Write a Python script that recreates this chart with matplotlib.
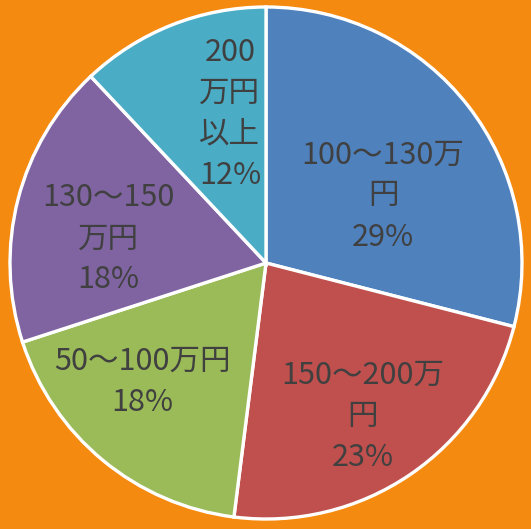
import matplotlib
matplotlib.use("Agg")
import matplotlib.pyplot as plt
import numpy as np

plt.rcParams['font.family'] = ['Noto Sans CJK JP', 'DejaVu Sans']

categories = ["100～130万\n円", "150～200万\n円", "50～100万円", "130～150\n万円", "200\n万円\n以上"]
values = [29, 23, 18, 18, 12]
colors = ["#4F81BD", "#C0504D", "#9BBB59", "#8064A2", "#4BACC6"]
label_dist = [0.527, 0.71, 0.67, 0.624, 0.60]
angle_shift = [-8.0, -2.0, -6.5, 5.7, -8.0]

W, H = 531, 529
fig = plt.figure(figsize=(W / 100, H / 100), dpi=100)
fig.patch.set_facecolor("#F58A10")
cx, cy, r = 266, 263, 256
ax = fig.add_axes([(cx - r) / W, (H - cy - r) / H, 2 * r / W, 2 * r / H])
ax.set_facecolor("none")

wedges, _ = ax.pie(values, colors=colors, startangle=90, counterclock=False,
                   wedgeprops=dict(edgecolor="white", linewidth=2.4), radius=1)
total = sum(values)
for w, cat, v, d, s in zip(wedges, categories, values, label_dist, angle_shift):
    mid = np.deg2rad((w.theta1 + w.theta2) / 2 + s)
    ax.text(d * np.cos(mid), d * np.sin(mid), f"{cat}\n{v / total * 100:.0f}%",
            ha="center", va="center", multialignment="center",
            fontsize=22, color="#404040", linespacing=1.42)
ax.set_xlim(-1, 1)
ax.set_ylim(-1, 1)
ax.set_aspect("auto")
ax.axis("off")
fig.savefig("out.png", dpi=100, facecolor=fig.get_facecolor())
